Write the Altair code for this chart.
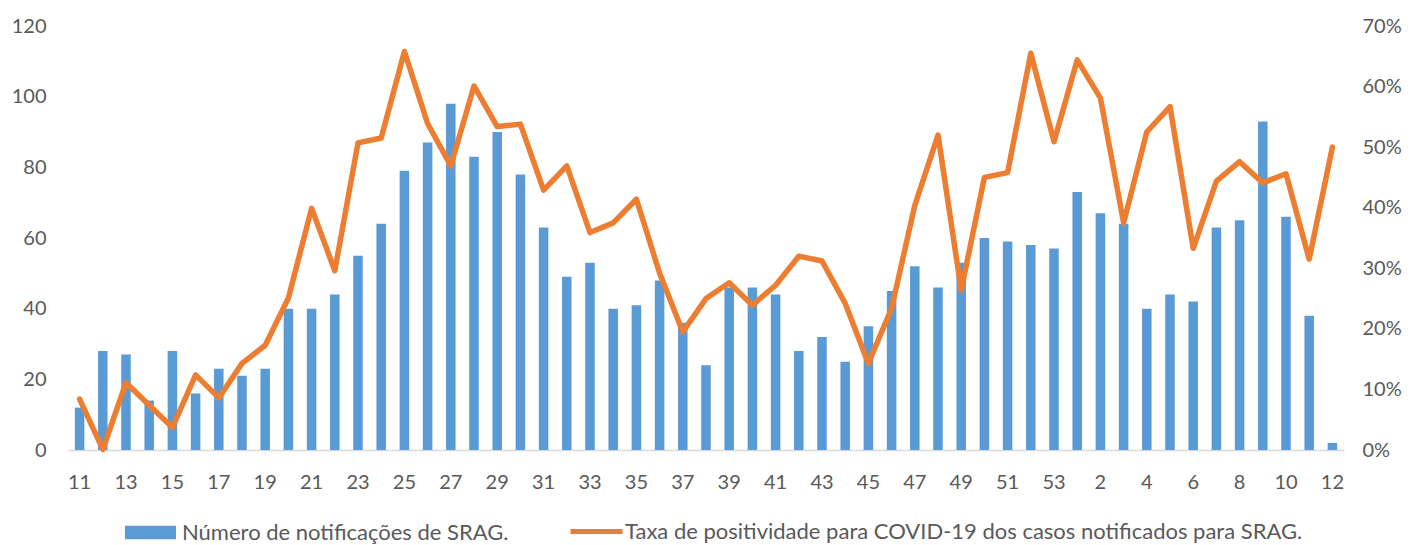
import json
import altair as alt
import pandas as pd

weeks = [11, 12, 13, 14, 15, 16, 17, 18, 19, 20, 21, 22, 23, 24, 25, 26, 27, 28, 29, 30,
         31, 32, 33, 34, 35, 36, 37, 38, 39, 40, 41, 42, 43, 44, 45, 46, 47, 48, 49, 50,
         51, 52, 53, 1, 2, 3, 4, 5, 6, 7, 8, 9, 10, 11, 12]

notificacoes = [12, 28, 27, 14, 28, 16, 23, 21, 23, 40, 40, 44, 55, 64, 79, 87, 98, 83, 90, 78,
                63, 49, 53, 40, 41, 48, 36, 24, 46, 46, 44, 28, 32, 25, 35, 45, 52, 46, 53, 60,
                59, 58, 57, 73, 67, 64, 40, 44, 42, 63, 65, 93, 66, 38, 2]

positividade = [8.4, 0.1, 11.1, 7.4, 3.7, 12.4, 8.6, 14.3, 17.3, 25.1, 39.9, 29.6, 50.7, 51.5, 65.8,
                53.9, 46.9, 60.1, 53.4, 53.8, 42.9, 46.9, 35.9, 37.5, 41.4, 29.2, 19.5, 25.0, 27.6,
                23.9, 27.2, 32.0, 31.2, 24.2, 14.3, 23.4, 40.4, 52.0, 26.4, 45.0, 45.8, 65.5, 50.9,
                64.4, 58.1, 37.5, 52.5, 56.7, 33.3, 44.4, 47.6, 44.1, 45.6, 31.5, 50.0]

serie_barras = "Número de notificações de SRAG."
serie_linha = "Taxa de positividade para COVID-19 dos casos notificados para SRAG."

df = pd.DataFrame({
    "idx": list(range(len(weeks))),
    "semana": weeks,
    "notificacoes": notificacoes,
    "taxa": [v / 100 for v in positividade],
    "s1": serie_barras,
    "s2": serie_linha,
})

FONT = "Lato"
GRAY = "#595959"
BLUE = "#5B9BD5"
ORANGE = "#ED7D31"
FS = 20
LFS = 22

label_expr = json.dumps(weeks) + "[datum.value]"

x = alt.X(
    "idx:O",
    scale=alt.Scale(paddingInner=0.59, paddingOuter=0.295),
    axis=alt.Axis(
        title=None,
        values=list(range(0, len(weeks), 2)),
        labelExpr=label_expr,
        labelAngle=0,
        ticks=False,
        tickSize=0,
        labelPadding=22,
        domainColor="#D9D9D9",
        domainWidth=1.5,
        labelColor=GRAY,
        labelFont=FONT,
        labelFontSize=FS,
        grid=False,
    ),
)

bars = alt.Chart(df).mark_bar(strokeWidth=0).encode(
    x=x,
    y=alt.Y(
        "notificacoes:Q",
        scale=alt.Scale(domain=[0, 120]),
        axis=alt.Axis(
            title=None,
            values=[0, 20, 40, 60, 80, 100, 120],
            orient="left",
            domain=False,
            ticks=False,
            tickSize=0,
            grid=False,
            labelPadding=22,
            labelColor=GRAY,
            labelFont=FONT,
            labelFontSize=FS,
        ),
    ),
    fill=alt.Fill(
        "s1:N",
        scale=alt.Scale(domain=[serie_barras], range=[BLUE]),
        legend=alt.Legend(
            title=None,
            orient="none",
            legendX=57,
            legendY=481,
            symbolType="M-1,-0.26H1V0.26H-1Z",
            symbolSize=2601,
            symbolStrokeWidth=0,
            labelOffset=6,
            labelFont=FONT,
            labelFontSize=LFS,
            labelColor=GRAY,
            labelLimit=900,
        ),
    ),
)

line = alt.Chart(df).mark_line(strokeWidth=5.5, strokeJoin="round", strokeCap="round").encode(
    x=x,
    y=alt.Y(
        "taxa:Q",
        scale=alt.Scale(domain=[0, 0.7]),
        axis=alt.Axis(
            title=None,
            values=[0, 0.1, 0.2, 0.3, 0.4, 0.5, 0.6, 0.7],
            format=".0%",
            orient="right",
            domain=False,
            ticks=False,
            tickSize=0,
            grid=False,
            labelPadding=18,
            labelColor=GRAY,
            labelFont=FONT,
            labelFontSize=FS,
        ),
    ),
    stroke=alt.Stroke(
        "s2:N",
        scale=alt.Scale(domain=[serie_linha], range=[ORANGE]),
        legend=alt.Legend(
            title=None,
            orient="none",
            legendX=500,
            legendY=477,
            symbolType="M-1,0H1",
            symbolSize=2704,
            symbolStrokeWidth=5,
            labelOffset=0,
            labelFont=FONT,
            labelFontSize=LFS,
            labelColor=GRAY,
            labelLimit=900,
        ),
    ),
)

chart = alt.layer(bars, line).resolve_scale(y="independent").properties(
    width=1276,
    height=424,
    background="white",
    autosize=alt.AutoSizeParams(type="none"),
    padding={"left": 60, "top": 18, "right": 61, "bottom": 95},
).configure_view(strokeWidth=0)

chart.save("out.html", embed_options={"renderer": "svg", "actions": False})
